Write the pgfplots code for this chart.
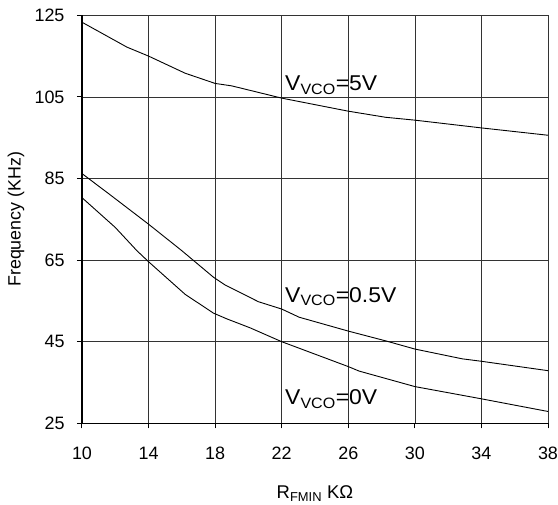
\documentclass[border=0pt]{standalone}
\usepackage{pgfplots}
\pgfplotsset{compat=1.18}
\usepackage{fontspec}
\setmainfont{Liberation Sans}
\newfontfamily\annfont{Liberation Sans}[FakeStretch=1.07]
\begin{document}
\begin{tikzpicture}
\begin{axis}[
    scale only axis,
    width=466bp, height=408bp,
    xmin=10, xmax=38, ymin=25, ymax=125,
    xtick={10,14,...,38},
    ytick={25,45,...,125},
    axis x line*=bottom, axis y line*=left,
    axis line style={line width=1.2bp, -},
    grid=major,
    major grid style={black!80, line width=0.7bp},
    tick style={black, line width=1bp},
    tick align=outside,
    major tick length=5bp,
    /pgf/number format/assume math mode=true,
    xticklabel={\pgfmathprintnumber{\tick}},
    yticklabel={\pgfmathprintnumber{\tick}},
    tick label style={font=\fontsize{18}{20}\selectfont},
    xticklabel style={yshift=-15bp},
    yticklabel style={xshift=-9bp},
    xlabel={R\textsubscript{FMIN} KΩ},
    ylabel={Frequency (KHz)},
    xlabel style={font=\fontsize{18.5}{20}\selectfont, at={(axis description cs:0.5,0)}, anchor=base, yshift=-75bp},
    ylabel style={font=\fontsize{17.9}{20}\selectfont, at={(axis description cs:-0.1416,0.5)}, anchor=center},
    no markers,
    every axis plot post/.append style={black, line width=0.9bp},
]
% V_VCO = 5 V
\addplot coordinates {(10,123.3) (12.7,117.2) (14,115) (16.2,110.8) (18,108.3) (19,107.7)
  (22,104.7) (26,101.5) (28.25,100) (30,99.3) (34,97.4) (38,95.6)};
% V_VCO = 0.5 V
\addplot coordinates {(10,86.2) (11.5,81.6) (14,73.8) (16,67.3) (17.9,60.8) (18.6,58.9)
  (20.6,54.8) (22,53) (23.05,51) (26,47.6) (28.25,45.2) (30,43.2) (32.85,40.8) (34,40.2) (38,37.9)};
% V_VCO = 0 V
\addplot coordinates {(10,80.3) (12,73.0) (13.3,67.3) (14,64.6) (16.2,56.6) (17.9,52.0) (18.7,50.6)
  (20.1,48.4) (22,45.0) (26,38.9) (26.65,37.8) (30,34.0) (34,31.0) (38,27.9)};
\node[anchor=base west, inner sep=0, font=\annfont\fontsize{21.5}{23}\selectfont] at (axis cs:22.2,106.5) {V\textsubscript{VCO}=5V};
\node[anchor=base west, inner sep=0, font=\annfont\fontsize{21.5}{23}\selectfont] at (axis cs:22.2,54.7) {V\textsubscript{VCO}=0.5V};
\node[anchor=base west, inner sep=0, font=\annfont\fontsize{21.5}{23}\selectfont] at (axis cs:22.2,29.5) {V\textsubscript{VCO}=0V};
\coordinate (bl) at (rel axis cs:0,0);
\coordinate (tr) at (rel axis cs:1,1);
\end{axis}
\pgfresetboundingbox
\path[use as bounding box] ([shift={(-82bp,-81bp)}]bl) rectangle ([shift={(10bp,15.3bp)}]tr);
\end{tikzpicture}
\end{document}
